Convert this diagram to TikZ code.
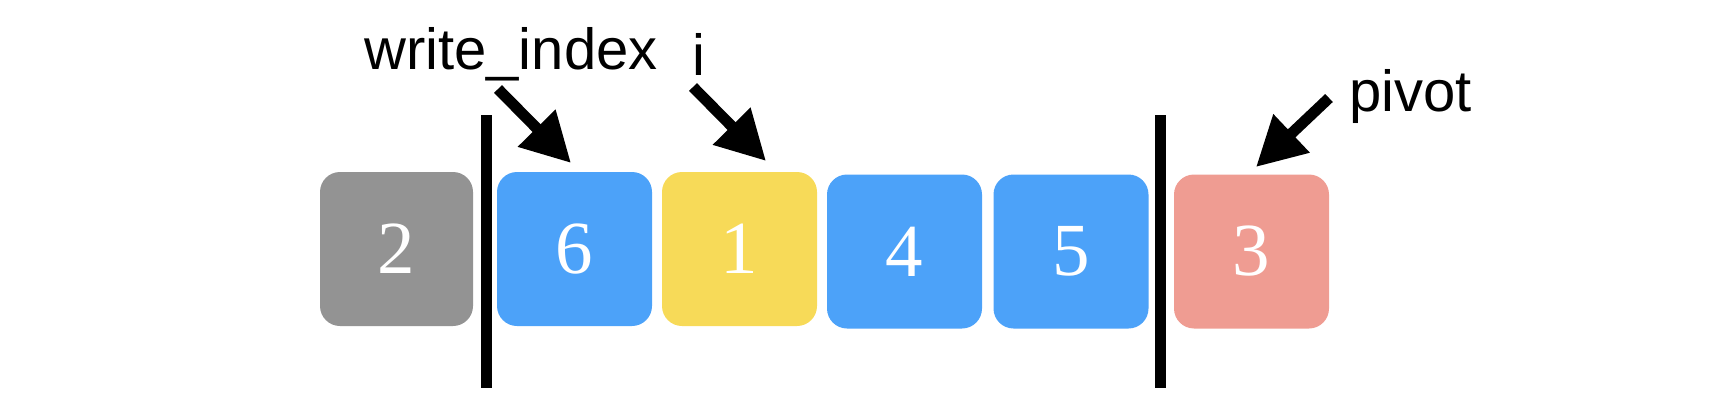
\documentclass[tikz,border=0pt]{standalone}
\usepackage{fontspec}
\setmainfont{Liberation Serif}
\newfontfamily\labelfont{Liberation Sans}
\usetikzlibrary{arrows.meta}
\definecolor{cgray}{HTML}{939393}
\definecolor{cblue}{HTML}{4CA2F9}
\definecolor{cyellow}{HTML}{F7DA58}
\definecolor{cred}{HTML}{EF9C92}
\tikzset{
  cell/.style={rectangle, rounded corners=20pt, minimum width=155pt, minimum height=154pt,
    inner sep=0pt, text=white, font=\fontsize{75}{75}\selectfont},
  lbl/.style={inner sep=0pt, font=\labelfont\fontsize{58}{60}\selectfont},
  divider/.style={line width=11pt},
  pointer/.style={line width=11pt, -{Triangle[length=49pt, width=50pt]}}
}
\begin{document}
\begin{tikzpicture}[x=1pt,y=-1pt]
\useasboundingbox (0,0) rectangle (1718,420);
\node[cell, fill=cgray, minimum width=153pt] (c2) at (396.5,249) {2};
\node[cell, fill=cblue] (c6) at (574.5,249) {6};
\node[cell, fill=cyellow] (c1) at (739.5,249) {1};
\node[cell, fill=cblue] (c4) at (904.5,251.5) {4};
\node[cell, fill=cblue] (c5) at (1071,251.5) {5};
\node[cell, fill=cred] (c3) at (1251.5,251.5) {3};
% dividers
\coordinate (d1t) at (486,115); \coordinate (d1b) at (486,388);
\coordinate (d2t) at (1160,115); \coordinate (d2b) at (1160,388);
\draw[divider] (d1t) -- (d1b);
\draw[divider] (d2t) -- (d2b);
% labels
\node[lbl, anchor=base west] (lw) at (364,70) {write\_index};
\node[lbl, anchor=base] (li) at (698.5,75) {i};
\node[lbl, anchor=base west] (lp) at (1349,111) {pivot};
% arrows
\coordinate (a1s) at (498,89); \coordinate (a1e) at (571,163);
\coordinate (a2s) at (693,87); \coordinate (a2e) at (766,161);
\coordinate (a3s) at (1329,98); \coordinate (a3e) at (1256,167);
\draw[pointer] (a1s) -- (a1e);
\draw[pointer] (a2s) -- (a2e);
\draw[pointer] (a3s) -- (a3e);
\end{tikzpicture}
\end{document}
